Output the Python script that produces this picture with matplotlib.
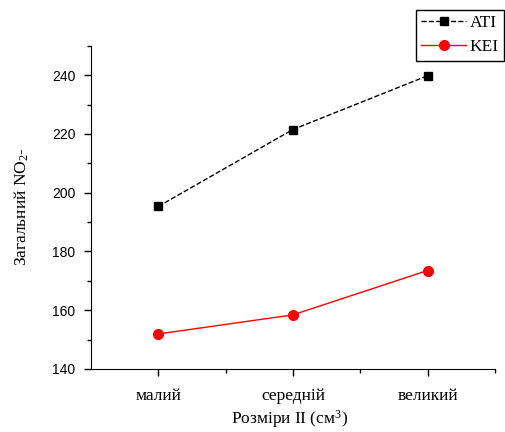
import matplotlib
matplotlib.use("Agg")
import matplotlib.pyplot as plt
import numpy as np

plt.rcParams["mathtext.fontset"] = "custom"
plt.rcParams["mathtext.rm"] = "Liberation Serif"
plt.rcParams["mathtext.it"] = "Liberation Serif:italic"

categories = ["малий", "середній", "великий"]
ati = [195.3, 221.5, 239.8]
kei = [151.9, 158.4, 173.5]

x = np.arange(1, len(categories) + 1)

fig = plt.figure(figsize=(5.05, 4.32), dpi=100)
ax = fig.add_axes([0.180, 0.146, 0.800, 0.748])

ax.plot(x, ati, color="black", linestyle="--", linewidth=1, marker="s",
        markersize=6, label="ATI")
ax.plot(x, kei, color="red", linestyle="-", linewidth=1, marker="o",
        markersize=7, label="KEI")

ax.set_xlim(0.5, 3.5)
ax.set_ylim(140, 250)
ax.set_xticks(x)
ax.set_xticklabels(categories, fontfamily="Liberation Serif", fontsize=12.5)
ax.set_xticks([1.5, 2.5, 3.5], minor=True)
ax.set_yticks([140, 160, 180, 200, 220, 240])
ax.set_yticks(np.arange(150, 251, 10), minor=True)
for lab in ax.get_yticklabels():
    lab.set_fontfamily("Liberation Sans")
    lab.set_fontsize(10)

ax.spines["top"].set_visible(False)
ax.spines["right"].set_visible(False)
ax.tick_params(direction="out", length=5, width=1, pad=6)
ax.tick_params(axis="x", pad=9)
ax.tick_params(which="minor", direction="out", length=3, width=1)

fig.text(290 / 505, 1 - 419 / 432, "Розміри II (см$^{\\mathrm{3}}$)", fontfamily="Liberation Serif",
         fontsize=12.5, ha="center", va="center")
fig.text(22 / 505, 1 - 207 / 432, "Загальний NO$_{\\mathrm{2}}$-", fontfamily="Liberation Serif",
         fontsize=12.5, ha="center", va="center", rotation=90)

leg = fig.legend(loc="upper left", bbox_to_anchor=(416 / 505, 1 - 10 / 432),
                 prop={"family": "Liberation Serif", "size": 12.5},
                 fancybox=False, edgecolor="black", framealpha=1,
                 handlelength=2.6, handletextpad=0.2, borderpad=0.3,
                 labelspacing=0.45, borderaxespad=0)
leg.get_frame().set_linewidth(1)

fig.savefig("out.png", dpi=100)
